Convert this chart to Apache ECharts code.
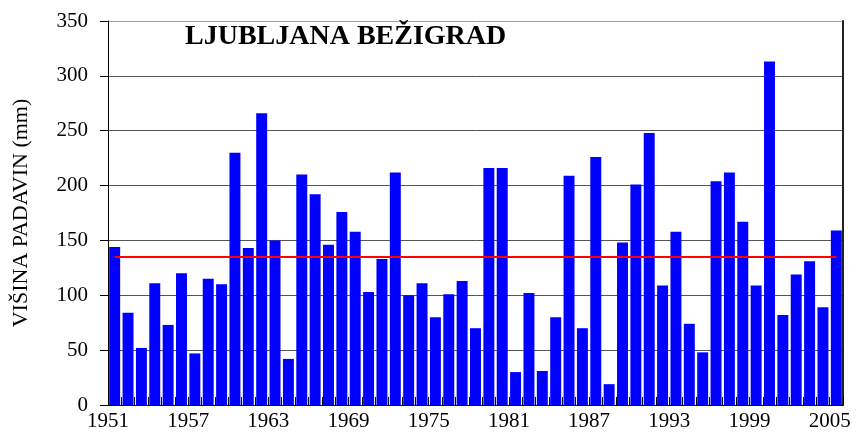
<!DOCTYPE html>
<html>
<head>
<meta charset="utf-8">
<script src="https://cdn.jsdelivr.net/npm/echarts@6/dist/echarts.min.js"></script>
<style>html,body{margin:0;padding:0;background:#fff}#c{width:856px;height:432px}</style>
</head>
<body>
<div id="c"></div>
<script>
var years = ['1951','1952','1953','1954','1955','1956','1957','1958','1959','1960',
  '1961','1962','1963','1964','1965','1966','1967','1968','1969','1970',
  '1971','1972','1973','1974','1975','1976','1977','1978','1979','1980',
  '1981','1982','1983','1984','1985','1986','1987','1988','1989','1990',
  '1991','1992','1993','1994','1995','1996','1997','1998','1999','2000',
  '2001','2002','2003','2004','2005'];
var precipitation = [144,84,52,111,73,120,47,115,110,230,
  143,266,150,42,210,192,146,176,158,103,
  133,212,100,111,80,101,113,70,216,216,
  30,102,31,80,209,70,226,19,148,201,
  248,109,158,74,48,204,212,167,109,313,
  82,119,131,89,159];
var meanValue = 135;
var tickLabelStep = 6;
var titleText = 'LJUBLJANA BEŽIGRAD';
var yAxisName = 'VIŠINA PADAVIN (mm)';

var chart = echarts.init(document.getElementById('c'), null, {renderer: 'canvas'});
var serif = '"Liberation Serif", "Times New Roman", serif';
chart.setOption({
  backgroundColor: '#fff',
  animation: false,
  title: {
    text: titleText,
    left: 180,
    top: 18,
    textStyle: {fontFamily: serif, fontWeight: 'bold', fontSize: 28, color: '#000'}
  },
  grid: {left: 108, right: 13, top: 21, bottom: 25, containLabel: false},
  xAxis: [{
    type: 'category',
    data: years,
    boundaryGap: true,
    axisLine: {show: true, lineStyle: {color: '#000', width: 1}},
    axisTick: {show: true, interval: 0, inside: true, length: 8, lineStyle: {color: '#000'}},
    axisLabel: {show: false},
    splitLine: {show: false}
  }, {
    type: 'value',
    position: 'bottom',
    min: 0,
    max: years.length,
    interval: tickLabelStep,
    axisLine: {show: false},
    axisTick: {show: false},
    splitLine: {show: false},
    axisLabel: {
      show: true,
      margin: 6,
      fontFamily: serif, fontSize: 21, color: '#000',
      showMaxLabel: false,
      formatter: function (v) { return (v % tickLabelStep === 0 && v < years.length) ? years[v] : ''; }
    }
  }],
  yAxis: [{
    type: 'value',
    min: 0, max: 350, interval: 50,
    name: yAxisName,
    nameLocation: 'middle',
    nameGap: 76,
    nameTextStyle: {fontFamily: serif, fontSize: 22, color: '#000'},
    axisLine: {show: true, lineStyle: {color: '#000'}},
    axisTick: {show: true, inside: false, length: 8, lineStyle: {color: '#000'}},
    axisLabel: {margin: 20, fontFamily: serif, fontSize: 21, color: '#000'},
    splitLine: {show: true, lineStyle: {color: ['#555','#555','#555','#555','#555','#555','#555','#a0a0a0'], width: 1}}
  }, {
    type: 'value',
    position: 'right',
    min: 0, max: 350, interval: 50,
    axisLine: {show: true, lineStyle: {color: '#222', width: 2}},
    axisTick: {show: false},
    axisLabel: {show: false},
    splitLine: {show: false}
  }],
  series: [{
    type: 'bar',
    data: precipitation,
    xAxisIndex: 0,
    yAxisIndex: 0,
    barCategoryGap: '18%',
    itemStyle: {color: '#0000ff'},
    markLine: {
      silent: true,
      symbol: 'none',
      label: {show: false},
      lineStyle: {color: '#ff0000', width: 2, type: 'solid'},
      data: [[{coord: [0, meanValue]}, {coord: [years.length - 1, meanValue]}]]
    }
  }]
});
</script>
</body>
</html>
